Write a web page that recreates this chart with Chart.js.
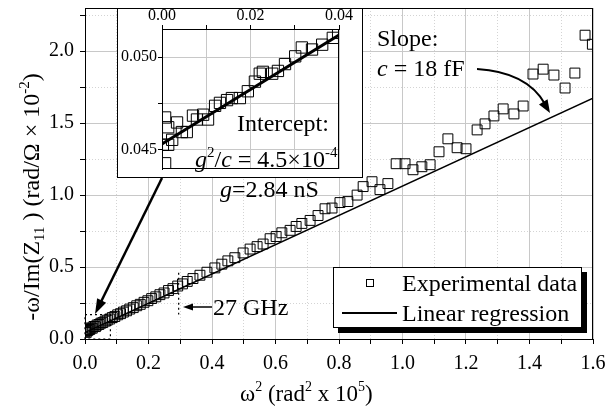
<!DOCTYPE html>
<html>
<head>
<meta charset="utf-8">
<title>Capacitance fit</title>
<script src="https://cdn.jsdelivr.net/npm/chart.js"></script>
<style>
  body { margin: 0; background: #fff; }
  #wrap { position: relative; width: 606px; height: 408px; }
  #mainChart { position: absolute; left: 0; top: 0; }
  #insetChart { position: absolute; left: 117px; top: 8px; }
</style>
</head>
<body>
<div id="wrap">
  <canvas id="mainChart" width="606" height="408"></canvas>
  <canvas id="insetChart" width="246" height="170"></canvas>
</div>
<script>
// measured points, omega^2 (x) vs -omega/Im(Z11) (y)
const expX = [0.000, 0.002, 0.004, 0.006, 0.009, 0.012, 0.015, 0.019, 0.023, 0.028,
  0.033, 0.038, 0.044, 0.050, 0.056, 0.063, 0.070, 0.078, 0.086, 0.094,
  0.103, 0.112, 0.121, 0.131, 0.141, 0.152, 0.163, 0.174, 0.186, 0.198,
  0.210, 0.223, 0.236, 0.249, 0.263, 0.277, 0.292, 0.307, 0.322, 0.340,
  0.362, 0.384, 0.409, 0.431, 0.450, 0.472, 0.498, 0.520, 0.542, 0.561,
  0.583, 0.602, 0.620, 0.646, 0.665, 0.683, 0.709, 0.734, 0.756, 0.778,
  0.803, 0.828, 0.857, 0.876, 0.904, 0.929, 0.954, 0.980, 1.008, 1.033,
  1.061, 1.087, 1.115, 1.143, 1.172, 1.200, 1.235, 1.260, 1.288, 1.317,
  1.351, 1.380, 1.411, 1.443, 1.477, 1.512, 1.543, 1.575, 1.598];
const expY = [0.050, 0.055, 0.046, 0.061, 0.058, 0.069, 0.066, 0.077, 0.075, 0.087,
  0.086, 0.097, 0.101, 0.110, 0.114, 0.124, 0.131, 0.139, 0.149, 0.156,
  0.168, 0.176, 0.187, 0.196, 0.208, 0.218, 0.231, 0.241, 0.255, 0.266,
  0.281, 0.293, 0.308, 0.320, 0.337, 0.350, 0.368, 0.383, 0.400, 0.420,
  0.443, 0.464, 0.494, 0.520, 0.543, 0.565, 0.598, 0.625, 0.642, 0.660,
  0.697, 0.712, 0.738, 0.755, 0.782, 0.803, 0.824, 0.858, 0.905, 0.910,
  0.948, 0.955, 1.000, 1.059, 1.093, 1.038, 1.080, 1.218, 1.218, 1.176,
  1.197, 1.211, 1.301, 1.391, 1.329, 1.322, 1.453, 1.495, 1.550, 1.599,
  1.564, 1.619, 1.841, 1.875, 1.834, 1.744, 1.848, 2.111, 2.048];
const fitX = [0, 1.6];
const fitY = [0.045, 1.674];

// zoomed inset near the origin
const insetX = [0.0007, 0.0002, 0.0007, 0.0014, 0.0023, 0.0014, 0.0034, 0.0045, 0.0056, 0.0070,
  0.0079, 0.0093, 0.0104, 0.0120, 0.0131, 0.0147, 0.0158, 0.0176, 0.0194, 0.0210,
  0.0221, 0.0228, 0.0249, 0.0262, 0.0278, 0.0301, 0.0316, 0.0339, 0.0362, 0.0386, 0.0398];
const insetY = [0.04426, 0.04526, 0.04674, 0.04526, 0.04553, 0.04621, 0.04647, 0.04595, 0.04595, 0.04684,
  0.04663, 0.04689, 0.04663, 0.04737, 0.04753, 0.04768, 0.04779, 0.04779, 0.04816, 0.04868,
  0.04911, 0.04921, 0.04911, 0.04926, 0.04963, 0.05005, 0.05053, 0.05042, 0.05068, 0.05105, 0.05132];
const insetFitX = [0, 0.04];
const insetFitY = [0.0453, 0.0512];

const xLabelled = [0, 0.2, 0.4, 0.6, 0.8, 1.0, 1.2, 1.4, 1.6];
const yLabelled = [0, 0.5, 1.0, 1.5, 2.0];
const insetXLabelled = [0, 0.02, 0.04];
const insetYLabelled = [0.045, 0.050];

const SERIF = '"Liberation Serif", "Times New Roman", serif';
const GRID = '#c8c8c8';

const near = (v, list) => list.some(t => Math.abs(v - t) < 1e-7);
const pts = (xs, ys) => xs.map((x, i) => ({ x: x, y: ys[i] }));

// text with italic / super / subscript parts: [text, kind]
function drawRich(ctx, parts, x, y, size, align) {
  const fontFor = k => (k === 'i' ? 'italic ' : '') +
    ((k === '^' || k === '_') ? Math.round(size * 0.62) : size) + 'px ' + SERIF;
  let w = 0;
  parts.forEach(([t, k]) => { ctx.font = fontFor(k); w += ctx.measureText(t).width; });
  let cx = align === 'center' ? x - w / 2 : x;
  ctx.textAlign = 'left';
  ctx.textBaseline = 'alphabetic';
  parts.forEach(([t, k]) => {
    ctx.font = fontFor(k);
    const dy = k === '^' ? -size * 0.42 : (k === '_' ? size * 0.22 : 0);
    ctx.fillText(t, cx, y + dy);
    cx += ctx.measureText(t).width;
  });
}

function arrowHead(ctx, x, y, ang, len, half) {
  const c = Math.cos(ang), s = Math.sin(ang);
  ctx.beginPath();
  ctx.moveTo(x, y);
  ctx.lineTo(x - len * c + half * s, y - len * s - half * c);
  ctx.lineTo(x - len * c - half * s, y - len * s + half * c);
  ctx.closePath();
  ctx.fill();
}

const mainDecor = {
  id: 'mainDecor',
  afterDraw(chart) {
    const ctx = chart.ctx, a = chart.chartArea;
    const xs = chart.scales.x, ys = chart.scales.y;
    ctx.save();
    ctx.fillStyle = '#000';
    ctx.strokeStyle = '#000';

    // frame
    ctx.lineWidth = 1;
    ctx.strokeRect(Math.round(a.left) + 0.5, Math.round(a.top) + 0.5,
      Math.round(a.right - a.left) - 1, Math.round(a.bottom - a.top));

    // dotted zoom box at origin and 27 GHz marker
    ctx.setLineDash([2, 3]);
    ctx.lineWidth = 1.2;
    ctx.beginPath();
    ctx.rect(xs.getPixelForValue(0), ys.getPixelForValue(0.17),
      xs.getPixelForValue(0.08) - xs.getPixelForValue(0), ys.getPixelForValue(0) - ys.getPixelForValue(0.17));
    ctx.moveTo(xs.getPixelForValue(0.295), ys.getPixelForValue(0.46));
    ctx.lineTo(xs.getPixelForValue(0.295), ys.getPixelForValue(0.17));
    ctx.stroke();
    ctx.setLineDash([]);

    // arrow 27 GHz
    ctx.lineWidth = 1.5;
    ctx.beginPath();
    ctx.moveTo(212, 307); ctx.lineTo(190, 307); ctx.stroke();
    arrowHead(ctx, 183, 307, Math.PI, 10, 3.5);
    drawRich(ctx, [['27 GHz', '']], 213, 315, 24, 'left');

    // arrow from inset to origin
    ctx.lineWidth = 2.5;
    const ang = Math.atan2(314 - 178, 95 - 162);
    ctx.beginPath();
    ctx.moveTo(162, 178);
    ctx.lineTo(95 - 10 * Math.cos(ang), 314 - 10 * Math.sin(ang));
    ctx.stroke();
    arrowHead(ctx, 95, 314, ang, 15, 5);

    drawRich(ctx, [['g', 'i'], ['=2.84 nS', '']], 220, 197, 24, 'left');

    // slope note with curved arrow
    drawRich(ctx, [['Slope:', '']], 377, 46, 24, 'left');
    drawRich(ctx, [['c', 'i'], [' = 18 fF', '']], 377, 76, 24, 'left');
    ctx.lineWidth = 2;
    ctx.beginPath();
    ctx.moveTo(477, 69);
    ctx.quadraticCurveTo(527, 72, 545, 104);
    ctx.stroke();
    arrowHead(ctx, 550, 113, Math.atan2(113 - 80, 550 - 530), 13, 5);

    // legend
    ctx.fillStyle = '#000';
    ctx.fillRect(338, 272, 249, 61);
    ctx.fillStyle = '#fff';
    ctx.fillRect(333, 267, 249, 61);
    ctx.lineWidth = 1;
    ctx.strokeRect(333.5, 267.5, 248, 60);
    ctx.strokeRect(366.5, 279.5, 7, 7);
    ctx.lineWidth = 2;
    ctx.beginPath(); ctx.moveTo(342, 313); ctx.lineTo(397, 313); ctx.stroke();
    ctx.fillStyle = '#000';
    drawRich(ctx, [['Experimental data', '']], 402, 291, 24, 'left');
    drawRich(ctx, [['Linear regression', '']], 402, 321, 24, 'left');

    // axis titles
    drawRich(ctx, [['\u03c9', ''], ['2', '^'], [' (rad', ''], ['2', '^'], [' x 10', ''], ['5', '^'], [')', '']],
      240, 401, 23, 'left');
    ctx.translate(39, 197);
    ctx.rotate(-Math.PI / 2);
    drawRich(ctx, [['-\u03c9/Im(Z', ''], ['11', '_'], [' ) (rad/\u03a9 \u00d7 10', ''], ['-2', '^'], [')', '']],
      0, 0, 24, 'center');
    ctx.restore();
  }
};

const gridOpts = (isMajor) => ({
  color: ctx => isMajor(ctx.tick.value) ? GRID : '#d4d4d4',
  lineWidth: 1,
  tickLength: 5,
  tickColor: '#000'
});

new Chart(document.getElementById('mainChart'), {
  type: 'scatter',
  data: {
    datasets: [{
      label: 'Experimental data',
      data: pts(expX, expY),
      pointStyle: 'rect',
      pointRadius: 7,
      pointBorderWidth: 1,
      pointBorderColor: '#000',
      pointBackgroundColor: 'rgba(0,0,0,0)'
    }, {
      label: 'Linear regression',
      data: pts(fitX, fitY),
      showLine: true,
      pointRadius: 0,
      borderColor: '#000',
      borderWidth: 1.5
    }]
  },
  options: {
    responsive: false,
    animation: false,
    devicePixelRatio: 1,
    layout: { padding: { top: 5, right: 13, left: 0, bottom: 0 } },
    plugins: { legend: { display: false }, tooltip: { enabled: false } },
    scales: {
      x: {
        type: 'linear', min: 0, max: 1.6,
        afterFit: s => { s.height = 69; s.paddingLeft = 0; s.paddingRight = 0; },
        ticks: {
          stepSize: 0.1, autoSkip: false, maxRotation: 0, includeBounds: false,
          padding: 8, color: '#000', font: { family: SERIF, size: 20 },
          callback: v => near(v, xLabelled) ? v.toFixed(1) : ''
        },
        grid: gridOpts(v => near(v, xLabelled)),
        border: { color: '#000', width: 1, dash: ctx => near(ctx.tick.value, xLabelled) ? [] : [1, 2] }
      },
      y: {
        type: 'linear', min: 0, max: 2.3,
        afterFit: s => { s.width = 85; s.paddingTop = 0; s.paddingBottom = 0; },
        ticks: {
          stepSize: 0.25, autoSkip: false, includeBounds: false,
          padding: 6, color: '#000', font: { family: SERIF, size: 20 },
          callback: v => near(v, yLabelled) ? v.toFixed(1) : ''
        },
        grid: gridOpts(v => near(v, yLabelled)),
        border: { color: '#000', width: 1, dash: ctx => near(ctx.tick.value, yLabelled) ? [] : [1, 2] }
      }
    }
  },
  plugins: [mainDecor]
});

const insetDecor = {
  id: 'insetDecor',
  beforeDraw(chart) {
    const ctx = chart.ctx;
    ctx.save();
    ctx.fillStyle = '#fff';
    ctx.fillRect(0, 0, chart.width, chart.height);
    ctx.restore();
  },
  afterDraw(chart) {
    const ctx = chart.ctx, a = chart.chartArea;
    ctx.save();
    ctx.strokeStyle = '#000';
    ctx.fillStyle = '#000';
    ctx.lineWidth = 1;
    ctx.strokeRect(0.5, 0.5, chart.width - 1, chart.height - 1);
    ctx.strokeRect(Math.round(a.left) + 0.5, Math.round(a.top) + 0.5,
      Math.round(a.right - a.left) - 1, Math.round(a.bottom - a.top) - 1);
    drawRich(ctx, [['Intercept:', '']], 120, 123, 24, 'left');
    drawRich(ctx, [['g', 'i'], ['2', '^'], ['/', ''], ['c', 'i'], [' = 4.5\u00d710', ''], ['-4', '^']],
      78, 159, 24, 'left');
    ctx.restore();
  }
};

new Chart(document.getElementById('insetChart'), {
  type: 'scatter',
  data: {
    datasets: [{
      data: pts(insetX, insetY),
      pointStyle: 'rect',
      pointRadius: 8,
      pointBorderWidth: 1,
      pointBorderColor: '#000',
      pointBackgroundColor: 'rgba(0,0,0,0)'
    }, {
      data: pts(insetFitX, insetFitY),
      showLine: true,
      pointRadius: 0,
      borderColor: '#000',
      borderWidth: 3
    }]
  },
  options: {
    responsive: false,
    animation: false,
    devicePixelRatio: 1,
    layout: { padding: { top: 0, right: 24, left: 0, bottom: 5 } },
    plugins: { legend: { display: false }, tooltip: { enabled: false } },
    scales: {
      x: {
        type: 'linear', position: 'top', min: 0, max: 0.04,
        afterFit: s => { s.height = 21; s.paddingLeft = 0; s.paddingRight = 0; },
        ticks: {
          stepSize: 0.01, autoSkip: false, maxRotation: 0, includeBounds: false,
          padding: 0, color: '#000', font: { family: SERIF, size: 16 },
          callback: v => near(v, insetXLabelled) ? v.toFixed(2) : ''
        },
        grid: { color: GRID, tickLength: 4, tickColor: '#000' },
        border: { color: '#000', width: 1 }
      },
      y: {
        type: 'linear', min: 0.04395, max: 0.05153,
        afterFit: s => { s.width = 45; s.paddingTop = 0; s.paddingBottom = 0; },
        ticks: {
          stepSize: 0.0025, autoSkip: false, includeBounds: false,
          padding: 1, color: '#000', font: { family: SERIF, size: 16 },
          callback: v => near(v, insetYLabelled) ? v.toFixed(3) : ''
        },
        grid: { color: GRID, tickLength: 4, tickColor: '#000' },
        border: { color: '#000', width: 1 }
      }
    }
  },
  plugins: [insetDecor]
});
</script>
</body>
</html>
